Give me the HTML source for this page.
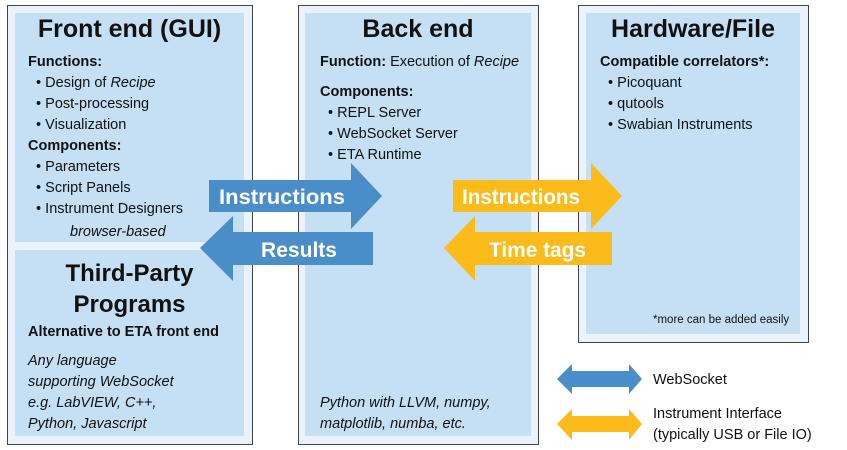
<!DOCTYPE html>
<html><head><style>
body{margin:0;width:847px;height:450px;background:#fff;position:relative;font-family:"Liberation Sans",sans-serif;color:#111;overflow:hidden}
.o{position:absolute;background:#eaf2fb;border:1.5px solid #444;box-sizing:border-box}
.i{position:absolute;background:#c5e0f4}
.t{position:absolute;font-size:14.5px;line-height:21px;white-space:nowrap}
.h{position:absolute;font-weight:bold;font-size:25px;text-align:center}
b{font-weight:bold}
</style></head><body>
<div class="o" style="left:7px;top:5px;width:246px;height:440px"></div>
<div class="i" style="left:15px;top:13px;width:229px;height:229px"></div>
<div class="i" style="left:15px;top:250px;width:229px;height:186px"></div>
<div class="o" style="left:298px;top:5px;width:241px;height:440px"></div>
<div class="i" style="left:305px;top:13px;width:226px;height:423px"></div>
<div class="o" style="left:578px;top:5px;width:231px;height:338px"></div>
<div class="i" style="left:586px;top:13px;width:214px;height:321px"></div>

<div class="h" style="left:15px;top:15px;width:229px">Front end (GUI)</div>
<div class="t" style="left:28px;top:52px"><b>Functions:</b><br>&nbsp;&nbsp;• Design of <i>Recipe</i><br>&nbsp;&nbsp;• Post-processing<br>&nbsp;&nbsp;• Visualization<br><b>Components:</b><br>&nbsp;&nbsp;• Parameters<br>&nbsp;&nbsp;• Script Panels<br>&nbsp;&nbsp;• Instrument Designers</div>
<div class="t" style="left:70px;top:222px"><i>browser-based</i></div>
<div class="h" style="left:15px;top:258px;width:229px;line-height:31px;font-size:24px">Third-Party<br>Programs</div>
<div class="t" style="left:28px;top:322px;font-weight:bold">Alternative to ETA front end</div>
<div class="t" style="left:28px;top:351px"><i>Any language<br>supporting WebSocket<br>e.g. LabVIEW, C++,<br>Python, Javascript</i></div>

<div class="h" style="left:305px;top:15px;width:226px">Back end</div>
<div class="t" style="left:320px;top:52px"><b>Function:</b> Execution of <i>Recipe</i></div>
<div class="t" style="left:320px;top:82px"><b>Components:</b><br>&nbsp;&nbsp;• REPL Server<br>&nbsp;&nbsp;• WebSocket Server<br>&nbsp;&nbsp;• ETA Runtime</div>
<div class="t" style="left:320px;top:393px"><i>Python with LLVM, numpy,<br>matplotlib, numba, etc.</i></div>

<div class="h" style="left:586px;top:15px;width:214px">Hardware/File</div>
<div class="t" style="left:600px;top:52px"><b>Compatible correlators*:</b><br>&nbsp;&nbsp;• Picoquant<br>&nbsp;&nbsp;• qutools<br>&nbsp;&nbsp;• Swabian Instruments</div>
<div class="t" style="left:653px;top:310px;font-size:11.5px">*more can be added easily</div>

<svg style="position:absolute;left:0;top:0" width="847" height="450">
<polygon points="209,180 351,180 351,163 382,196 351,229 351,212 209,212" fill="#4a8ec9"/>
<polygon points="373,232 233,232 233,216 200,248 233,281 233,265 373,265" fill="#4a8ec9"/>
<polygon points="453,180 591,180 591,163 622,196 591,229 591,212 453,212" fill="#fbbb1a"/>
<polygon points="612,232 475,232 475,216 444,248 475,281 475,265 612,265" fill="#fbbb1a"/>
<polygon points="557,379 572,364 572,371 629,371 629,364 642,379 629,394 629,387 572,387 572,394" fill="#4a8ec9"/>
<polygon points="557,424 572,409 572,416 629,416 629,409 642,424 629,440 629,432 572,432 572,440" fill="#fbbb1a"/>
<g font-family="Liberation Sans,sans-serif" font-weight="bold" font-size="21" fill="#fff">
<text x="219" y="204" textLength="126" lengthAdjust="spacingAndGlyphs">Instructions</text>
<text x="261" y="257" textLength="76" lengthAdjust="spacingAndGlyphs">Results</text>
<text x="462" y="204" textLength="118" lengthAdjust="spacingAndGlyphs">Instructions</text>
<text x="489" y="257" textLength="97" lengthAdjust="spacingAndGlyphs">Time tags</text>
</g>
</svg>
<div class="t" style="left:653px;top:370px">WebSocket</div>
<div class="t" style="left:653px;top:404px">Instrument Interface<br>(typically USB or File IO)</div>
</body></html>
